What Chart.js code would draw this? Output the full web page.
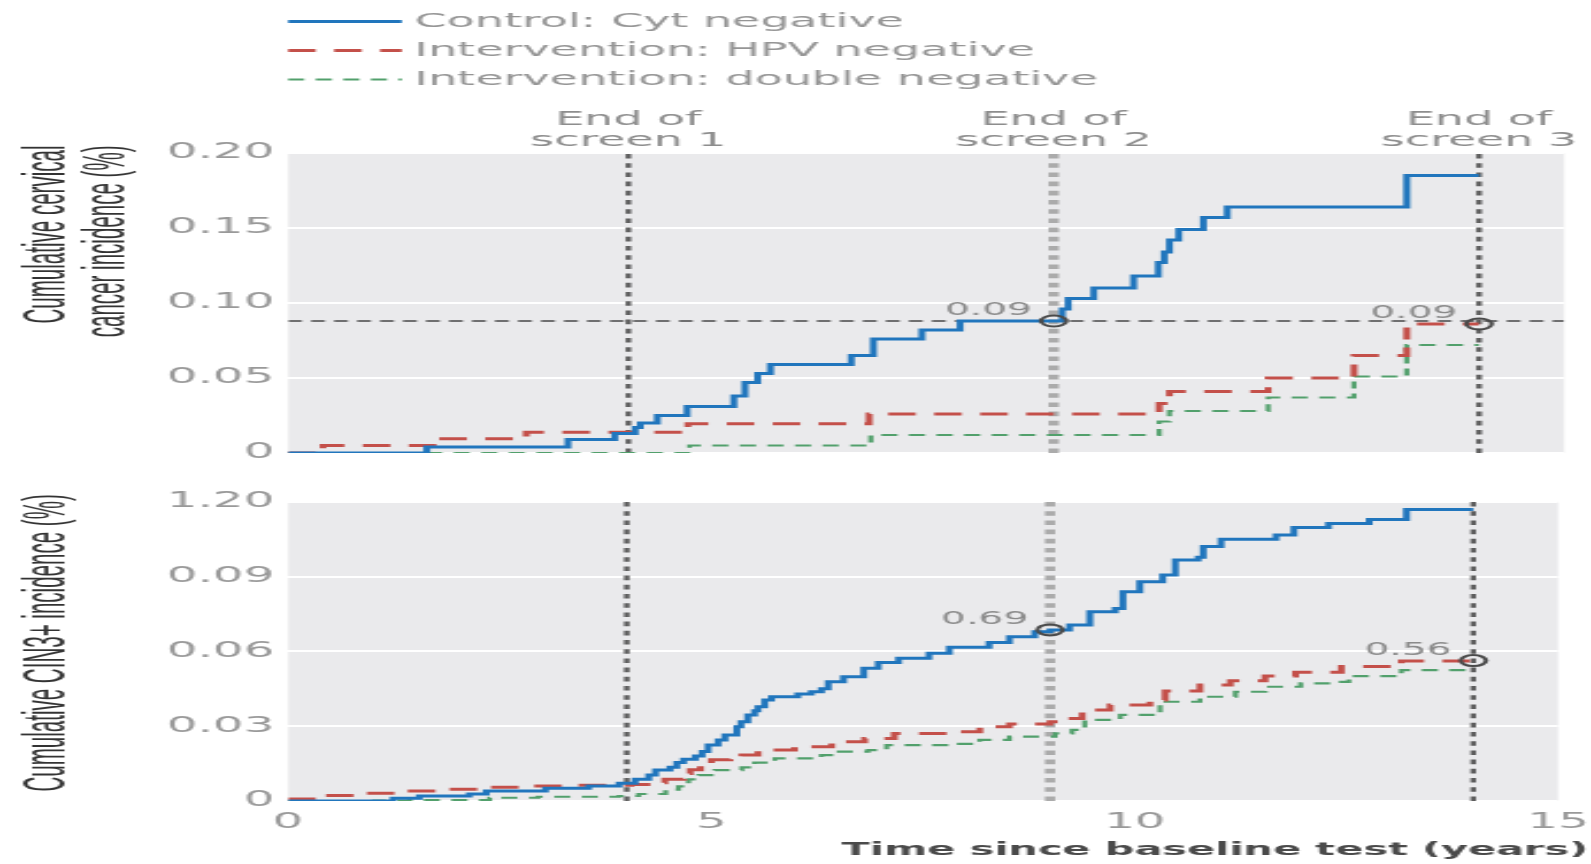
<!DOCTYPE html>
<html>
<head>
<meta charset="utf-8">
<script src="https://cdn.jsdelivr.net/npm/chart.js@4.4.1/dist/chart.umd.min.js"></script>
<style>
  html, body { margin: 0; padding: 0; background: #fff; overflow: hidden; }
</style>
</head>
<body>
<!-- the figure is drawn narrow and stretched sideways, like the original picture -->
<canvas id="cancerChart" width="692" height="475" style="position:absolute;left:0;top:0;width:1591px;height:475px"></canvas>
<canvas id="cinChart" width="692" height="389" style="position:absolute;left:0;top:475px;width:1591px;height:389px"></canvas>
<script>
var seriesNames = ['Control: Cyt negative', 'Intervention: HPV negative', 'Intervention: double negative'];
var seriesColors = ['#2176bd', '#c4504a', '#52a06c'];
var screenEnds = [4, 9, 14];
var screenNames = ['screen 1', 'screen 2', 'screen 3'];
var yearTicks = [0, 5, 10, 15];
var yearLabels = ['0', '5', '10', '15'];
var xTitle = 'Time since baseline test (years)';
var markX = [9, 14];

// cumulative cervical cancer incidence (%), step points
var cancerTitle = ['Cumulative cervical', 'cancer incidence (%)'];
var cancerCytX = [0, 1.63, 3.29, 3.84, 4.08, 4.14, 4.34, 4.69, 5.24, 5.37, 5.52, 5.67, 6.62, 6.88, 7.45, 7.9, 9.1, 9.17, 9.47, 9.94, 10.23, 10.3, 10.36, 10.47, 10.76, 11.04, 13.15, 14.0];
var cancerCytY = [0, 0.004, 0.009, 0.013, 0.017, 0.020, 0.025, 0.031, 0.038, 0.047, 0.053, 0.059, 0.065, 0.076, 0.082, 0.088, 0.096, 0.103, 0.110, 0.118, 0.127, 0.134, 0.142, 0.149, 0.157, 0.164, 0.185, 0.185];
var cancerHpvX = [0, 0.41, 1.75, 2.8, 4.7, 6.83, 10.24, 10.36, 11.52, 12.53, 13.15, 14.0];
var cancerHpvY = [0, 0.005, 0.0095, 0.0138, 0.0195, 0.026, 0.033, 0.041, 0.050, 0.065, 0.086, 0.086];
var cancerDblX = [0, 4.72, 6.85, 10.24, 10.36, 11.52, 12.53, 13.15, 14.0];
var cancerDblY = [0, 0.005, 0.012, 0.021, 0.028, 0.037, 0.051, 0.072, 0.072];
var cancerTickValues = [0, 0.05, 0.1, 0.15, 0.2];
var cancerTickLabels = ['0', '0.05', '0.10', '0.15', '0.20'];
var cancerRefLine = 0.088;
var cancerMarkY = [0.088, 0.086];

// cumulative CIN3+ incidence (%), step points
var cinTitle = ['Cumulative CIN3+ incidence (%)'];
var cinCytX = [0, 1.24, 1.55, 2.14, 2.34, 3.04, 3.55, 3.91, 4.10, 4.26, 4.34, 4.51, 4.59, 4.67, 4.81, 4.89, 4.96, 5.08, 5.16, 5.30, 5.35, 5.43, 5.51, 5.55, 5.63, 5.71, 6.02, 6.18, 6.30, 6.38, 6.56, 6.80, 6.97, 7.21, 7.57, 7.81, 8.28, 8.52, 8.82, 9.00, 9.23, 9.47, 9.77, 9.86, 10.06, 10.33, 10.48, 10.75, 10.81, 11.02, 11.67, 11.88, 12.29, 12.77, 13.21, 14.0];
var cinCytY = [0, 0.011, 0.020, 0.028, 0.040, 0.051, 0.060, 0.071, 0.087, 0.104, 0.124, 0.135, 0.154, 0.167, 0.180, 0.198, 0.225, 0.245, 0.265, 0.298, 0.318, 0.345, 0.362, 0.378, 0.405, 0.418, 0.429, 0.438, 0.450, 0.478, 0.498, 0.532, 0.555, 0.572, 0.592, 0.616, 0.635, 0.659, 0.679, 0.686, 0.706, 0.759, 0.772, 0.839, 0.879, 0.906, 0.966, 0.977, 1.020, 1.049, 1.066, 1.097, 1.113, 1.129, 1.169, 1.169];
var cinHpvX = [0, 0.38, 0.81, 1.36, 1.79, 2.38, 2.81, 3.36, 4.05, 4.32, 4.45, 4.67, 4.75, 4.87, 5.0, 5.22, 5.36, 5.55, 5.98, 6.42, 6.81, 7.16, 7.81, 8.17, 8.52, 9.0, 9.26, 9.38, 9.71, 10.18, 10.36, 10.77, 11.13, 11.54, 11.9, 12.44, 13.15, 14.0];
var cinHpvY = [0.008, 0.022, 0.031, 0.040, 0.047, 0.055, 0.060, 0.063, 0.066, 0.073, 0.087, 0.110, 0.125, 0.151, 0.165, 0.171, 0.184, 0.204, 0.218, 0.238, 0.251, 0.271, 0.278, 0.298, 0.309, 0.318, 0.331, 0.365, 0.385, 0.405, 0.441, 0.465, 0.482, 0.501, 0.516, 0.539, 0.561, 0.563];
var cinDblX = [0, 1.02, 1.44, 2.38, 2.95, 3.91, 4.14, 4.46, 4.61, 4.73, 4.85, 5.04, 5.36, 5.51, 5.75, 6.30, 6.51, 6.85, 7.07, 7.81, 8.17, 8.52, 9.06, 9.26, 9.41, 9.83, 10.24, 10.30, 10.77, 11.19, 11.54, 11.96, 12.44, 12.53, 13.15, 14.0];
var cinDblY = [0, 0.002, 0.004, 0.013, 0.017, 0.020, 0.028, 0.046, 0.059, 0.087, 0.104, 0.124, 0.135, 0.154, 0.171, 0.184, 0.198, 0.204, 0.224, 0.229, 0.245, 0.258, 0.271, 0.285, 0.325, 0.345, 0.351, 0.398, 0.418, 0.438, 0.458, 0.472, 0.478, 0.501, 0.525, 0.525];
var cinTickValues = [0, 0.3, 0.6, 0.9, 1.2];
var cinTickLabels = ['0', '0.03', '0.06', '0.09', '1.20'];
var cinMarkY = [0.686, 0.563];

Chart.defaults.font.family = 'DejaVu Sans';

function pairs(xs, ys) {
  return xs.map(function (x, i) { return { x: x, y: ys[i] }; });
}

var seriesDash = [[], [12, 8], [7, 5]];
var seriesWidth = [3, 3, 2.2];
var screenLineColors = ['#5c5c5c', '#ababab', '#5c5c5c'];
var screenLineWidths = [2.4, 4.5, 2.4];

function panelDatasets(xsList, ysList, yMax, refY, markY) {
  var sets = [];
  for (var i = 0; i < 3; i++) {
    sets.push({
      label: seriesNames[i],
      data: pairs(xsList[i], ysList[i]),
      borderColor: seriesColors[i],
      borderDash: seriesDash[i],
      borderWidth: seriesWidth[i],
      stepped: true,
      pointRadius: 0,
      fill: false,
      order: 0
    });
  }
  screenEnds.forEach(function (v, i) {
    sets.push({
      data: [{ x: v, y: 0 }, { x: v, y: yMax }],
      borderColor: screenLineColors[i],
      borderWidth: screenLineWidths[i],
      borderDash: [4.6, 4.6],
      pointRadius: 0,
      order: 2
    });
  });
  if (refY !== null) {
    sets.push({
      data: [{ x: 0, y: refY }, { x: 15, y: refY }],
      borderColor: '#474747',
      borderWidth: 1.5,
      borderDash: [6, 4],
      pointRadius: 0,
      order: 1
    });
  }
  sets.push({
    data: pairs(markX, markY),
    showLine: false,
    pointRadius: 5.5,
    pointBorderWidth: 2,
    pointBorderColor: '#4a4a4a',
    pointBackgroundColor: 'rgba(0,0,0,0)',
    order: -1
  });
  return sets;
}

var plotBg = {
  id: 'plotBg',
  beforeDraw: function (chart) {
    var a = chart.chartArea, ctx = chart.ctx;
    ctx.save();
    ctx.fillStyle = '#eaeaec';
    ctx.fillRect(a.left, a.top, a.right - a.left, a.bottom - a.top);
    ctx.restore();
  }
};

var markText = {
  id: 'markText',
  afterDatasetsDraw: function (chart, args, opts) {
    var ctx = chart.ctx, x = chart.scales.x, y = chart.scales.y;
    ctx.save();
    ctx.font = '17px "DejaVu Sans"';
    ctx.fillStyle = '#8a8a8a';
    ctx.textAlign = 'right';
    ctx.textBaseline = 'alphabetic';
    markX.forEach(function (v, i) {
      var val = opts.values[i];
      ctx.fillText(val.toFixed(2), x.getPixelForValue(v) - 9.5, y.getPixelForValue(val) - 6);
    });
    ctx.restore();
  }
};

// rotated, condensed y title, ending a little above the plot top
var yTitle = {
  id: 'yTitle',
  afterDraw: function (chart, args, opts) {
    var ctx = chart.ctx, a = chart.chartArea;
    ctx.save();
    ctx.font = '26px "Liberation Sans"';
    ctx.fillStyle = '#333';
    ctx.textAlign = 'right';
    ctx.textBaseline = 'alphabetic';
    opts.lines.forEach(function (line, i) {
      ctx.save();
      ctx.translate(27.5 + i * 26, a.top - 7.5);
      ctx.rotate(-Math.PI / 2);
      ctx.scale(0.79, 1);
      ctx.fillText(line, 0, 0);
      ctx.restore();
    });
    ctx.restore();
  }
};

// legend and "End of screen" captions, top panel only
var topTexts = {
  id: 'topTexts',
  afterDraw: function (chart) {
    var ctx = chart.ctx, a = chart.chartArea, x = chart.scales.x;
    ctx.save();
    ctx.font = '20px "DejaVu Sans"';
    ctx.textBaseline = 'middle';
    seriesNames.forEach(function (name, i) {
      var ds = chart.data.datasets[i];
      var ly = 21.5 + i * 29;
      ctx.strokeStyle = ds.borderColor;
      ctx.lineWidth = ds.borderWidth;
      ctx.setLineDash(ds.borderDash);
      ctx.beginPath();
      ctx.moveTo(a.left, ly);
      ctx.lineTo(a.left + 49.5, ly);
      ctx.stroke();
      ctx.fillStyle = '#959595';
      ctx.textAlign = 'left';
      ctx.fillText(name, a.left + 55, ly);
    });
    ctx.fillStyle = '#8d8d8d';
    ctx.textAlign = 'center';
    screenEnds.forEach(function (v, i) {
      var px = x.getPixelForValue(v);
      ctx.fillText('End of', px, a.top - 33);
      ctx.fillText(screenNames[i], px, a.top - 12.5);
    });
    ctx.restore();
  }
};

// x title sits a little right of the plot's right edge, bottom panel only
var xTitleText = {
  id: 'xTitleText',
  afterDraw: function (chart) {
    var ctx = chart.ctx, a = chart.chartArea;
    ctx.save();
    ctx.font = 'bold 18px "DejaVu Sans"';
    ctx.fillStyle = '#4a4a4a';
    ctx.textAlign = 'right';
    ctx.textBaseline = 'middle';
    ctx.fillText(xTitle, a.right + 13, a.bottom + 49);
    ctx.restore();
  }
};

var tickFont = { family: 'DejaVu Sans', size: 21 };

function makePanel(id, sets, yMax, tickValues, tickLabels, titleLines, showX, pad, marks, extra) {
  return new Chart(document.getElementById(id), {
    type: 'line',
    data: { datasets: sets },
    options: {
      responsive: false,
      animation: false,
      events: [],
      layout: { padding: pad },
      plugins: {
        legend: { display: false },
        tooltip: { enabled: false },
        markText: { values: marks },
        yTitle: { lines: titleLines }
      },
      scales: {
        x: {
          type: 'linear',
          min: 0,
          max: 15,
          display: showX,
          afterBuildTicks: function (s) { s.ticks = yearTicks.map(function (v) { return { value: v }; }); },
          afterFit: function (s) { if (showX) { s.height = 63; } },
          grid: { display: false },
          border: { display: false },
          ticks: {
            padding: 1,
            color: '#999',
            font: tickFont,
            maxRotation: 0,
            autoSkip: false,
            callback: function (v, i) { return yearLabels[i]; }
          }
        },
        y: {
          min: 0,
          max: yMax,
          afterBuildTicks: function (s) { s.ticks = tickValues.map(function (v) { return { value: v }; }); },
          afterFit: function (s) { s.width = 125.3; },
          grid: { color: '#ffffff', lineWidth: 2, drawTicks: false },
          border: { display: false },
          ticks: {
            padding: 6,
            color: '#999',
            font: tickFont,
            autoSkip: false,
            callback: function (v, i) { return tickLabels[i]; }
          }
        }
      }
    },
    plugins: [plotBg, markText, yTitle].concat(extra)
  });
}

makePanel('cancerChart',
  panelDatasets([cancerCytX, cancerHpvX, cancerDblX], [cancerCytY, cancerHpvY, cancerDblY], 0.2, cancerRefLine, cancerMarkY),
  0.2, cancerTickValues, cancerTickLabels, cancerTitle, false,
  { top: 153, right: 11.7, bottom: 22, left: 0 }, cancerMarkY, [topTexts]);

makePanel('cinChart',
  panelDatasets([cinCytX, cinHpvX, cinDblX], [cinCytY, cinHpvY, cinDblY], 1.2, null, cinMarkY),
  1.2, cinTickValues, cinTickLabels, cinTitle, true,
  { top: 26.7, right: 11.7, bottom: 0, left: 0 }, cinMarkY, [xTitleText]);
</script>
</body>
</html>
